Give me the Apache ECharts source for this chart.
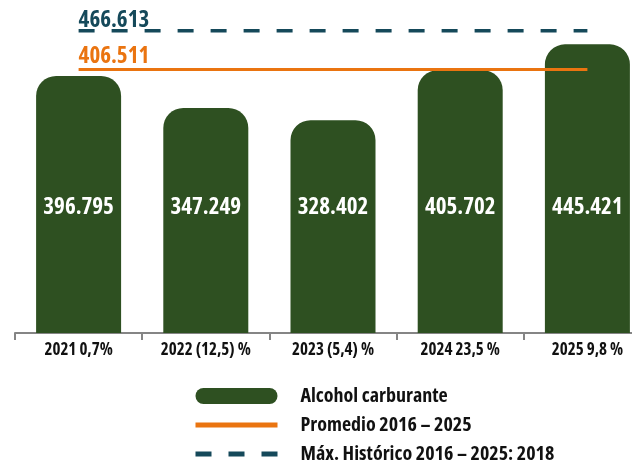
<!DOCTYPE html>
<html>
<head>
<meta charset="utf-8">
<script src="https://cdn.jsdelivr.net/npm/echarts@6/dist/echarts.min.js"></script>
<style>
html,body{margin:0;padding:0;background:#fff;}
#chart{width:632px;height:468px;}
</style>
</head>
<body>
<div id="chart"></div>
<script>
const categories = ['2021 0,7%', '2022 (12,5) %', '2023 (5,4) %', '2024 23,5 %', '2025 9,8 %'];
const barValues = [396.795, 347.249, 328.402, 405.702, 445.421];
const averageValue = 406.511;
const maxValue = 466.613;
const seriesNames = ['Alcohol carburante', 'Promedio 2016 – 2025', 'Máx. Histórico 2016 – 2025: 2018'];

const FONT = '"Open Sans", "Roboto", sans-serif';
const FW = 'bold condensed';
const GREEN = '#2e5021';
const ORANGE = '#ea7410';
const TEAL = '#15495a';

function fmt(v) { return v.toFixed(3); }

function flatLine(value, color, labelOffset) {
  return categories.map(function (c, i) {
    if (i === 0) {
      return {
        value: value, symbol: 'circle', symbolSize: 0,
        label: {
          show: true, position: [0, labelOffset], align: 'left', verticalAlign: 'middle',
          formatter: fmt(value), color: color, fontFamily: FONT, fontWeight: FW, fontSize: 23
        }
      };
    }
    return value;
  });
}

const chart = echarts.init(document.getElementById('chart'), null, {renderer: 'canvas'});
chart.setOption({
  animation: false,
  backgroundColor: '#ffffff',
  grid: {left: 15, top: 9, right: -19, height: 324, containLabel: false, outerBoundsMode: 'none'},
  xAxis: {
    type: 'category', data: categories,
    axisLine: {show: true, lineStyle: {color: '#858585', width: 2}},
    axisTick: {show: true, interval: 0, length: 7, lineStyle: {color: '#858585', width: 2}},
    axisLabel: {interval: 0, color: '#111', fontFamily: FONT, fontWeight: FW, fontSize: 17, margin: 9}
  },
  yAxis: {type: 'value', min: 0, max: 500, show: false, splitLine: {show: false}},
  legend: {
    orient: 'vertical', left: 193, top: 386, height: 100, padding: 0,
    itemWidth: 82, itemHeight: 16, itemGap: 9,
    selectedMode: false,
    textStyle: {color: '#111', fontFamily: FONT, fontWeight: FW, fontSize: 20, lineHeight: 16, padding: [0, 0, 0, 18]},
    data: [
      {name: seriesNames[0], icon: 'path://M8,0H74A8,8,0,0,1,74,16H8A8,8,0,0,1,8,0Z'},
      {name: seriesNames[1], itemStyle: {opacity: 0}, lineStyle: {width: 5}},
      {name: seriesNames[2], itemStyle: {opacity: 0}, lineStyle: {width: 5}}
    ]
  },
  series: [
    {
      name: seriesNames[0], type: 'bar', data: barValues, barWidth: 85,
      itemStyle: {color: GREEN, borderRadius: [20, 20, 0, 0]},
      label: {
        show: true, position: 'insideBottom', distance: 114,
        formatter: function (p) { return fmt(p.value); },
        color: '#ffffff', fontFamily: FONT, fontWeight: FW, fontSize: 23
      },
      z: 1
    },
    {
      name: seriesNames[1], type: 'line', data: flatLine(averageValue, ORANGE, -13),
      symbol: 'none', lineStyle: {color: ORANGE, width: 3}, itemStyle: {color: ORANGE}, z: 3
    },
    {
      name: seriesNames[2], type: 'line', data: flatLine(maxValue, TEAL, -10),
      symbol: 'none', lineStyle: {color: TEAL, width: 3.5, type: [16, 17]}, itemStyle: {color: TEAL}, z: 3
    }
  ]
});
</script>
</body>
</html>
